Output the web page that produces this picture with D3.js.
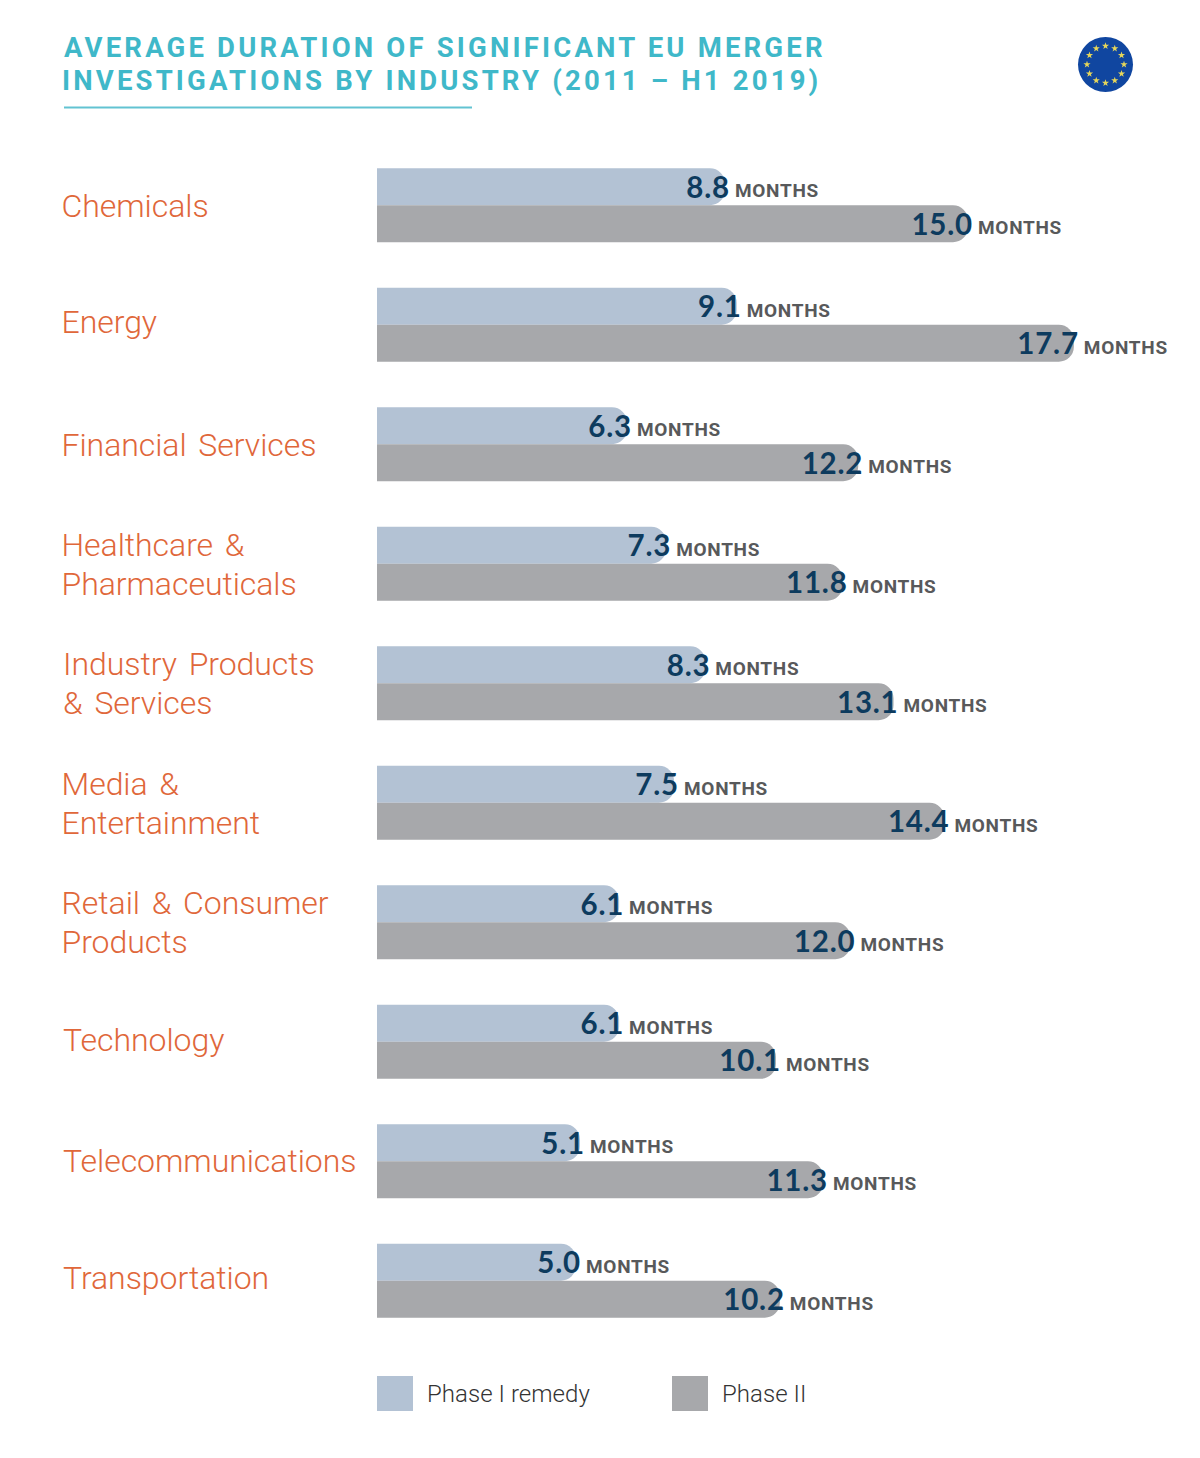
<!DOCTYPE html>
<html>
<head>
<meta charset="utf-8">
<script src="https://cdn.jsdelivr.net/npm/d3@7"></script>
<style>
  body { margin: 0; background: #fff; }
  svg { display: block; }
  text { font-family: Lato, "Open Sans", sans-serif; }
</style>
</head>
<body>
<div id="vis"></div>
<script>
// chart data
const categories = ["Chemicals", "Energy", "Financial Services", "Healthcare & Pharmaceuticals",
  "Industry Products & Services", "Media & Entertainment", "Retail & Consumer Products",
  "Technology", "Telecommunications", "Transportation"];
const categoryLines = [["Chemicals"], ["Energy"], ["Financial Services"], ["Healthcare &", "Pharmaceuticals"],
  ["Industry Products", "& Services"], ["Media &", "Entertainment"], ["Retail & Consumer", "Products"],
  ["Technology"], ["Telecommunications"], ["Transportation"]];
const phase1 = [8.8, 9.1, 6.3, 7.3, 8.3, 7.5, 6.1, 6.1, 5.1, 5.0];
const phase2 = [15.0, 17.7, 12.2, 11.8, 13.1, 14.4, 12.0, 10.1, 11.3, 10.2];
const seriesNames = ["Phase I remedy", "Phase II"];
const titleLines = ["AVERAGE DURATION OF SIGNIFICANT EU MERGER", "INVESTIGATIONS BY INDUSTRY (2011 – H1 2019)"];

const width = 1200, height = 1458;
const barLeft = 377, barH = 37, radius = 15;
const colors = ["#b3c2d4", "#a7a8ab"];
const orange = "#e0673a", teal = "#3fb8c9", navy = "#0d3b5e", grey = "#58595b";
const condensed = "Roboto, Lato, sans-serif";

const svg = d3.select("#vis").append("svg")
  .attr("width", width)
  .attr("height", height)
  .style("background-color", "white");

let x = d3.scaleLinear().domain([0, 20]).range([380, 1164]);
let y = d3.scaleBand().domain(categories).range([145.5, 1340.5]).paddingInner(0).paddingOuter(0);

// title
svg.append("g").selectAll("text")
  .data(titleLines)
  .join("text")
  .attr("x", (d, i) => i == 0 ? 64 : 62)
  .attr("y", (d, i) => 57 + i * 33)
  .style("font-family", condensed)
  .attr("font-size", 27.5)
  .attr("font-weight", 700)
  .attr("letter-spacing", 3.17)
  .attr("fill", teal)
  .text(d => d);

svg.append("line")
  .attr("x1", 64).attr("x2", 472)
  .attr("y1", 107.5).attr("y2", 107.5)
  .attr("stroke", "#62c3d2").attr("stroke-width", 2);

// EU flag
const flag = svg.append("g").attr("transform", "translate(1105.5,64.5)");
flag.append("circle").attr("r", 27.5).attr("fill", "#1046a0");
const star = d3.symbol().type(d3.symbolStar).size(16);
flag.selectAll("path")
  .data(d3.range(12))
  .join("path")
  .attr("d", star)
  .attr("fill", "#e6d65a")
  .attr("transform", d => {
    const a = d * Math.PI / 6;
    return `translate(${18.5 * Math.sin(a)},${-18.5 * Math.cos(a)})`;
  });

function barPath(x1, y0, h) {
  const p = d3.path();
  p.moveTo(barLeft, y0);
  p.lineTo(x1 - radius, y0);
  p.arcTo(x1, y0, x1, y0 + radius, radius);
  p.lineTo(x1, y0 + h - radius);
  p.arcTo(x1, y0 + h, x1 - radius, y0 + h, radius);
  p.lineTo(barLeft, y0 + h);
  p.closePath();
  return p.toString();
}

const rows = svg.append("g").selectAll("g")
  .data(categories)
  .join("g")
  .attr("transform", d => `translate(0, ${y(d) + y.bandwidth() / 2})`);

// the original labels are hand placed, a few sit off the row centre
const labelDy = { "Chemicals": 1, "Energy": -3, "Financial Services": 1, "Technology": -2, "Transportation": -3 };
const labelX = { "Industry Products": 63, "& Services": 63, "Technology": 63, "Telecommunications": 63, "Transportation": 63 };

// category labels
rows.append("g")
  .selectAll("text")
  .data((d, i) => categoryLines[i].map((t, j) => ({ t: t, j: j, n: categoryLines[i].length })))
  .join("text")
  .attr("x", d => labelX[d.t] || 61.5)
  .attr("y", d => (d.n == 1 ? 11 : (d.j == 0 ? -8 : 31)) + (labelDy[d.t] || 0))
  .style("font-family", condensed)
  .attr("font-size", 32)
  .attr("font-weight", 300)
  .attr("letter-spacing", -0.05)
  .attr("word-spacing", 4)
  .attr("fill", orange)
  .text(d => d.t);

// bars and value labels, one block per series
[phase1, phase2].forEach((series, s) => {
  const y0 = s == 0 ? -barH : 0;
  rows.append("path")
    .attr("d", (d, i) => barPath(x(series[i]), y0, barH))
    .attr("fill", colors[s]);
  rows.append("text")
    .attr("x", (d, i) => x(series[i]) + 5)
    .attr("y", y0 + 29.5)
    .attr("text-anchor", "end")
    .attr("font-size", 29.5)
    .attr("font-weight", 700)
    .attr("letter-spacing", 0.8)
    .attr("fill", navy)
    .text((d, i) => series[i].toFixed(1));
  rows.append("text")
    .attr("x", (d, i) => x(series[i]) + 10)
    .attr("y", y0 + 29)
    .style("font-family", condensed)
    .attr("font-size", 19)
    .attr("font-weight", 700)
    .attr("letter-spacing", 0.7)
    .attr("fill", grey)
    .text("MONTHS");
});

// legend
const legend = svg.append("g").selectAll("g")
  .data(seriesNames)
  .join("g")
  .attr("transform", (d, i) => `translate(${i == 0 ? 377 : 672}, 1376)`);
legend.append("rect")
  .attr("width", 36).attr("height", 35)
  .attr("fill", (d, i) => colors[i]);
legend.append("text")
  .attr("x", 50).attr("y", 26)
  .style("font-family", condensed)
  .attr("font-size", 24)
  .attr("letter-spacing", 0.05)
  .attr("fill", "#333")
  .attr("font-weight", 300)
  .text(d => d);
</script>
</body>
</html>
